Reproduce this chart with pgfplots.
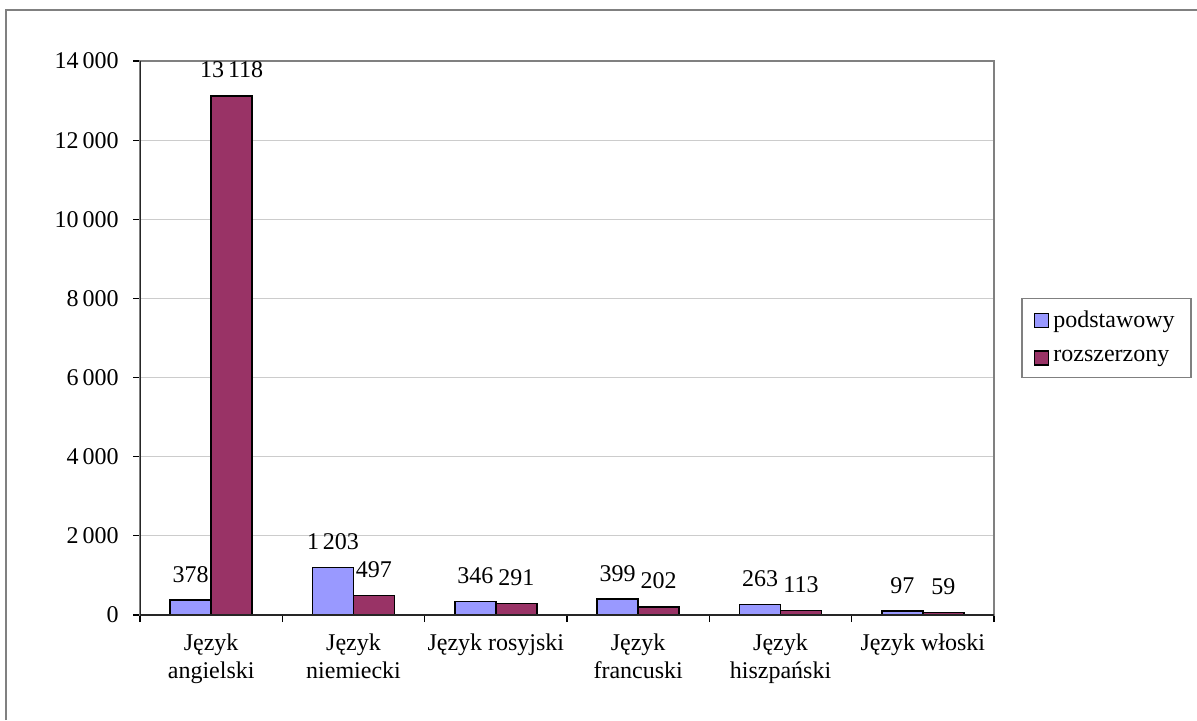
\documentclass[border=0pt]{standalone}
\usepackage{fontspec}
\setmainfont{Liberation Serif}
\usepackage{pgfplots}
\pgfplotsset{compat=1.18}
\definecolor{podst}{HTML}{9999FF}
\definecolor{rozsz}{HTML}{993366}
\begin{document}
\fontsize{12}{14}\selectfont
\begin{tikzpicture}
\useasboundingbox (0,0) rectangle (598.5pt,360pt);
\draw[gray, line width=1pt] (3pt,0) -- (3pt,355pt) -- (598.5pt,355pt);
\begin{axis}[
  at={(70pt,52.5pt)}, anchor=south west,
  scale only axis, width=427pt, height=277pt,
  xmin=-0.5, xmax=5.5, ymin=0, ymax=14000,
  ybar,
  ytick={0,2000,...,14000},
  scaled y ticks=false,
  /pgf/number format/1000 sep={\,},
  /pgf/number format/assume math mode=true,
  xtick={-0.5,0.5,...,5.5},
  xticklabels={{},{},{},{},{},{},{}},
  extra x ticks={0,1,2,3,4,5},
  extra x tick labels={Język\\angielski, Język\\niemiecki, Język rosyjski, Język\\francuski, Język\\hiszpański, Język włoski},
  extra x tick style={major tick length=0pt, tick label style={align=center, yshift=-5pt}},
  tick align=outside, major tick length=3.5pt,
  xtick pos=bottom, ytick pos=left,
  tick style={black, line width=0.6pt},
  yticklabel style={xshift=-3pt},
  axis line style={draw=gray, line width=1pt},
  ymajorgrids, grid style={gray!40, line width=0.5pt},
  nodes near coords,
  every node near coord/.append style={black, yshift=4.5pt},
  legend image code/.code={\draw[#1, line width=0.8pt] (0pt,-3.5pt) rectangle (7pt,3.5pt);},
  legend cell align=left,
  legend style={at={(1.0316,0.5)}, anchor=west, draw=gray, line width=0.8pt, row sep=6pt, inner xsep=6pt, inner ysep=4pt},
]
\addplot[bar width=0.288, bar shift=-0.144, fill=podst, draw=black, line width=0.8pt] coordinates {(0,378) (1,1203) (2,346) (3,399) (4,263) (5,97)};
\addplot[bar width=0.288, bar shift=0.144, fill=rozsz, draw=black, line width=0.8pt] coordinates {(0,13118) (1,497) (2,291) (3,202) (4,113) (5,59)};
\legend{podstawowy, rozszerzony}
\draw[black!85, line width=0.8pt] (rel axis cs:0,1) -- (rel axis cs:0,0) -- (rel axis cs:1,0);
\end{axis}
\end{tikzpicture}
\end{document}
